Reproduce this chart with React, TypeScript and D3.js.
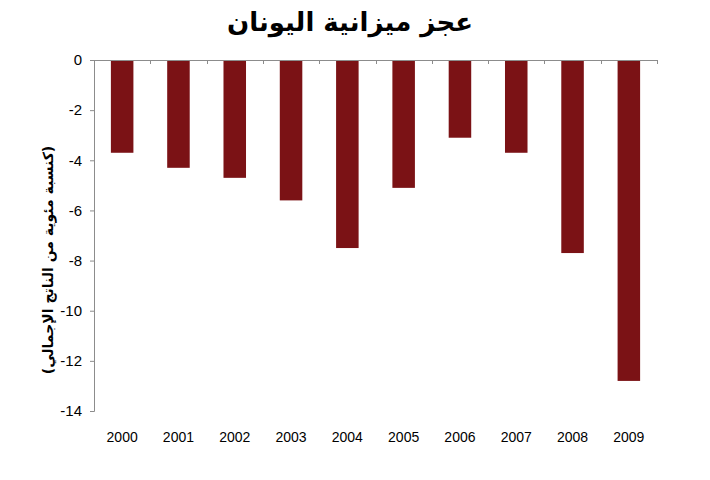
import React, { useEffect, useRef } from 'react';
import * as d3 from 'd3';

// Greek budget deficit, % of GDP
const YEARS = ['2000', '2001', '2002', '2003', '2004', '2005', '2006', '2007', '2008', '2009'];
const DEFICIT = [-3.7, -4.3, -4.7, -5.6, -7.5, -5.1, -3.1, -3.7, -7.7, -12.8];
const Y_TICKS = [0, -2, -4, -6, -8, -10, -12, -14];

const TITLE = 'عجز ميزانية اليونان';
const Y_LABEL = '(كنسبة مئوية من الناتج الإجمالي)';

const BAR_COLOR = '#7b1215';
const AXIS_COLOR = '#8c8c8c';

export default function App() {
  const svgRef = useRef<SVGSVGElement>(null);
  const width = 710;
  const height = 480;
  const margin = { top: 60, right: 53, bottom: 69, left: 94 };
  const innerWidth = width - margin.left - margin.right;
  const innerHeight = height - margin.top - margin.bottom;

  useEffect(() => {
    if (!svgRef.current) return;
    const svg = d3.select(svgRef.current);
    svg.selectAll('*').remove();

    const x = d3.scaleBand<string>().domain(YEARS).range([0, innerWidth]).paddingInner(0.6).paddingOuter(0.3);
    const xTicks = d3.scaleLinear().domain([0, YEARS.length]).range([0, innerWidth]);
    const y = d3.scaleLinear().domain([0, -14]).range([0, innerHeight]);

    const g = svg.append('g').attr('transform', `translate(${margin.left},${margin.top})`);

    // bars
    g.selectAll('rect.bar')
      .data(DEFICIT)
      .enter()
      .append('rect')
      .attr('class', 'bar')
      .attr('x', (_, i) => x(YEARS[i]) as number)
      .attr('width', x.bandwidth())
      .attr('y', y(0))
      .attr('height', d => y(d) - y(0))
      .attr('fill', BAR_COLOR);

    // y axis (plain hyphen minus like the original)
    const yAxis = d3.axisLeft(y).tickValues(Y_TICKS).tickSize(4).tickPadding(8).tickFormat(d => String(d));
    g.append('g')
      .call(yAxis)
      .call(s => s.select('.domain').attr('stroke', AXIS_COLOR).attr('d', `M-4,0.5H0.5V${innerHeight + 0.5}H-4`))
      .call(s => s.selectAll('.tick line').attr('stroke', AXIS_COLOR))
      .call(s => s.selectAll('.tick text')
        .attr('fill', '#000')
        .attr('font-size', '15px')
        .attr('font-family', 'Liberation Sans, Arial, sans-serif'));

    // top category axis at zero line
    g.append('line')
      .attr('x1', 0).attr('x2', innerWidth)
      .attr('y1', y(0) + 0.5).attr('y2', y(0) + 0.5)
      .attr('stroke', AXIS_COLOR);
    g.selectAll('line.cat-tick')
      .data(d3.range(1, YEARS.length + 1))
      .enter()
      .append('line')
      .attr('class', 'cat-tick')
      .attr('x1', d => Math.round(xTicks(d)) + 0.5)
      .attr('x2', d => Math.round(xTicks(d)) + 0.5)
      .attr('y1', y(0))
      .attr('y2', y(0) + 4)
      .attr('stroke', AXIS_COLOR);

    // year labels below plot
    g.selectAll('text.year')
      .data(YEARS)
      .enter()
      .append('text')
      .attr('class', 'year')
      .attr('x', d => (x(d) as number) + x.bandwidth() / 2)
      .attr('y', innerHeight + 31)
      .attr('text-anchor', 'middle')
      .attr('font-size', '14px')
      .attr('font-family', 'Liberation Sans, Arial, sans-serif')
      .attr('fill', '#000')
      .text(d => d);

    // y label
    svg.append('text')
      .attr('transform', `translate(53,260) rotate(-90)`)
      .attr('text-anchor', 'middle')
      .attr('font-size', '14px')
      .attr('font-weight', 'bold')
      .attr('font-family', 'DejaVu Sans, Arial, sans-serif')
      .attr('direction', 'rtl')
      .attr('fill', '#000')
      .text(Y_LABEL);

    // title
    svg.append('text')
      .attr('x', 350)
      .attr('y', 31)
      .attr('text-anchor', 'middle')
      .attr('font-size', '26px')
      .attr('font-weight', 'bold')
      .attr('font-family', 'DejaVu Sans, Arial, sans-serif')
      .attr('direction', 'rtl')
      .attr('fill', '#000')
      .text(TITLE);
  }, []);

  return (
    <svg
      ref={svgRef}
      width={width}
      height={height}
      style={{ position: 'absolute', left: 0, top: 0, background: '#fff' }}
    />
  );
}
